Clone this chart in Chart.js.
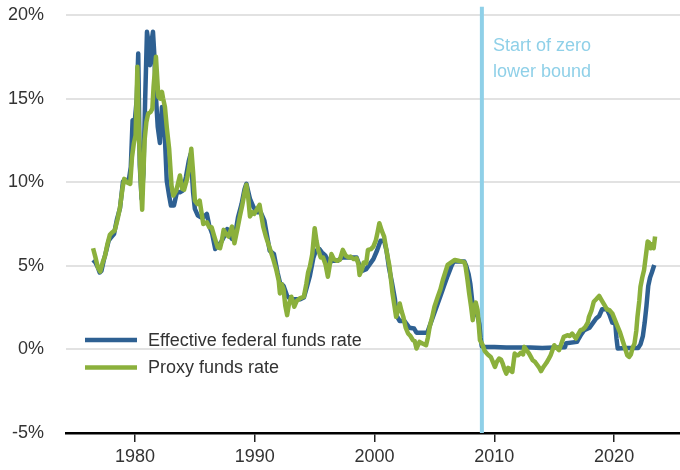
<!DOCTYPE html>
<html>
<head>
<meta charset="utf-8">
<script src="https://cdn.jsdelivr.net/npm/chart.js@4"></script>
<style>
html,body{margin:0;padding:0;background:#fff;}
canvas{display:block;}
</style>
</head>
<body>
<canvas id="c" width="680" height="470"></canvas>
<script>
// ---- Data ----
const seriesNames = ['Effective federal funds rate', 'Proxy funds rate'];
const xTickYears = [1980, 1990, 2000, 2010, 2020];
const yTickValues = [-5, 0, 5, 10, 15, 20];
const zlbYear = 2008.96;
const zlbLabel = ['Start of zero', 'lower bound'];

const effYears = [1976.50,1976.70,1976.90,1977.05,1977.20,1977.40,1977.60,1977.80,1978.00,1978.25,1978.50,1978.75,1979.00,1979.25,1979.50,1979.65,1979.80,1980.00,1980.15,1980.27,1980.40,1980.55,1980.70,1980.85,1981.00,1981.10,1981.25,1981.40,1981.50,1981.60,1981.75,1981.90,1982.08,1982.25,1982.35,1982.50,1982.65,1982.85,1983.00,1983.25,1983.50,1983.75,1984.00,1984.25,1984.50,1984.65,1984.85,1985.00,1985.25,1985.50,1985.70,1986.00,1986.20,1986.45,1986.70,1986.90,1987.10,1987.40,1987.70,1987.90,1988.10,1988.30,1988.60,1988.90,1989.15,1989.30,1989.60,1989.90,1990.20,1990.50,1990.80,1991.00,1991.25,1991.60,1991.90,1992.10,1992.40,1992.70,1993.00,1993.40,1993.80,1994.10,1994.30,1994.60,1994.90,1995.10,1995.40,1995.60,1995.90,1996.20,1996.50,1996.90,1997.30,1997.70,1998.10,1998.50,1998.75,1999.00,1999.30,1999.60,1999.90,2000.20,2000.50,2000.80,2001.00,2001.20,2001.45,2001.70,2001.85,2002.10,2002.50,2002.90,2003.30,2003.50,2004.00,2004.40,2004.60,2004.90,2005.20,2005.50,2005.80,2006.10,2006.40,2006.60,2007.00,2007.50,2007.65,2007.85,2008.00,2008.15,2008.30,2008.60,2008.75,2008.85,2008.95,2009.20,2010.00,2011.00,2012.00,2013.00,2014.00,2015.00,2015.90,2016.00,2016.90,2017.05,2017.25,2017.50,2017.95,2018.25,2018.50,2018.75,2019.00,2019.40,2019.60,2019.85,2020.10,2020.20,2020.30,2021.00,2022.00,2022.20,2022.40,2022.55,2022.70,2022.85,2023.00,2023.15,2023.35];
const effRates = [5.35,5.2,4.9,4.6,4.7,5.35,5.9,6.5,6.7,6.9,7.8,8.45,10.05,10.1,10.2,10.9,13.7,13.8,15.0,17.7,11.0,9.0,10.5,15.0,19.0,18.5,17.0,18.5,19.0,17.8,15.1,13.3,12.35,14.5,14.5,12.6,10.1,9.2,8.6,8.6,9.4,9.4,9.5,10.3,11.3,11.7,9.4,8.4,8.0,7.9,7.9,8.1,7.4,6.9,6.0,6.3,6.3,6.7,7.2,6.8,6.6,6.6,7.9,8.7,9.6,9.9,9.0,8.5,8.2,8.2,7.7,6.9,5.9,5.7,4.6,4.0,3.8,3.2,3.0,3.0,3.0,3.1,3.6,4.4,5.5,5.9,6.0,5.8,5.6,5.2,5.3,5.3,5.5,5.5,5.5,5.5,5.0,4.7,4.8,5.1,5.4,5.9,6.5,6.5,5.9,4.9,4.0,3.0,2.0,1.7,1.7,1.3,1.25,1.0,1.0,1.0,1.4,2.0,2.6,3.2,3.8,4.4,4.95,5.25,5.25,5.25,5.0,4.5,3.9,2.9,2.2,2.0,1.5,0.7,0.2,0.15,0.15,0.12,0.12,0.12,0.09,0.12,0.13,0.37,0.45,0.65,0.9,1.15,1.3,1.6,1.85,2.0,2.4,2.4,2.1,1.6,1.55,0.65,0.05,0.08,0.08,0.3,0.8,1.6,2.6,3.8,4.3,4.6,5.05];

const proxyYears = [1976.50,1976.70,1976.90,1977.10,1977.30,1977.50,1977.70,1977.90,1978.10,1978.30,1978.55,1978.75,1978.95,1979.10,1979.30,1979.60,1979.75,1979.90,1980.05,1980.20,1980.30,1980.45,1980.60,1980.80,1980.95,1981.10,1981.30,1981.45,1981.55,1981.75,1981.95,1982.10,1982.25,1982.35,1982.50,1982.65,1982.85,1983.05,1983.20,1983.45,1983.75,1983.95,1984.10,1984.35,1984.55,1984.70,1984.85,1985.00,1985.20,1985.40,1985.55,1985.70,1986.00,1986.20,1986.40,1986.60,1986.90,1987.10,1987.25,1987.40,1987.60,1987.80,1988.10,1988.30,1988.55,1988.75,1988.95,1989.15,1989.30,1989.45,1989.60,1989.80,1989.95,1990.20,1990.40,1990.55,1990.70,1990.95,1991.25,1991.50,1991.80,1992.00,1992.10,1992.25,1992.40,1992.55,1992.70,1992.85,1993.05,1993.20,1993.30,1993.50,1993.75,1994.10,1994.30,1994.45,1994.60,1994.80,1995.00,1995.15,1995.30,1995.50,1995.70,1995.90,1996.10,1996.25,1996.40,1996.60,1996.85,1997.10,1997.35,1997.60,1997.85,1998.00,1998.25,1998.50,1998.65,1998.75,1998.95,1999.10,1999.30,1999.45,1999.70,1999.90,2000.10,2000.25,2000.40,2000.60,2000.80,2001.00,2001.25,2001.50,2001.80,2001.95,2002.10,2002.25,2002.40,2002.60,2002.80,2003.00,2003.20,2003.35,2003.50,2003.75,2004.00,2004.30,2004.45,2004.60,2004.80,2005.00,2005.30,2005.50,2005.70,2005.90,2006.10,2006.40,2006.70,2007.00,2007.30,2007.50,2007.60,2007.75,2007.90,2008.05,2008.20,2008.30,2008.45,2008.60,2008.80,2009.00,2009.20,2009.45,2009.70,2009.85,2010.05,2010.20,2010.40,2010.55,2010.70,2010.85,2011.00,2011.15,2011.25,2011.40,2011.50,2011.60,2011.70,2011.85,2012.00,2012.20,2012.40,2012.50,2012.70,2012.90,2013.05,2013.20,2013.40,2013.60,2013.75,2013.90,2014.10,2014.35,2014.55,2014.70,2014.85,2015.00,2015.20,2015.40,2015.60,2015.80,2016.10,2016.30,2016.50,2016.80,2017.00,2017.20,2017.40,2017.60,2017.80,2017.90,2018.10,2018.30,2018.50,2018.75,2018.95,2019.20,2019.40,2019.60,2019.85,2020.05,2020.30,2020.50,2020.70,2020.90,2021.10,2021.25,2021.40,2021.55,2021.70,2021.85,2021.95,2022.10,2022.20,2022.35,2022.50,2022.65,2022.80,2022.90,2023.05,2023.20,2023.30,2023.42];
const proxyRates = [6.05,5.5,4.9,4.65,5.2,5.6,6.3,6.85,7.0,7.1,7.8,8.5,9.6,10.2,10.0,9.9,11.5,12.3,12.8,16.9,13.5,10.5,8.35,12.5,13.6,14.1,14.2,14.4,15.7,17.5,15.1,15.0,15.4,15.0,14.5,13.3,12.0,9.8,9.2,9.5,10.4,9.6,9.55,10.2,11.0,12.0,10.6,8.9,8.7,8.9,8.2,7.5,7.6,7.3,7.3,6.8,6.1,6.05,6.5,7.15,6.9,6.75,7.35,6.35,7.2,7.95,8.6,9.4,9.85,9.1,7.95,8.2,8.1,8.4,8.65,8.0,7.35,6.7,6.05,5.5,4.75,4.1,3.35,3.9,3.6,2.6,2.05,2.7,3.15,2.8,2.55,2.9,3.05,3.15,3.9,4.6,4.95,5.7,7.25,6.5,5.95,5.5,5.5,5.1,4.35,5.0,5.7,5.4,5.3,5.35,5.95,5.6,5.5,5.55,5.4,5.45,5.1,4.45,4.8,5.2,5.15,5.95,6.0,6.15,6.5,7.0,7.55,7.1,6.75,5.9,4.95,3.35,1.95,2.3,2.75,2.3,1.95,1.3,0.95,0.8,0.55,0.5,0.05,0.45,0.35,0.25,0.7,1.35,1.9,2.55,3.2,3.6,4.15,4.6,5.05,5.2,5.35,5.3,5.25,5.2,4.95,4.2,3.35,2.6,1.75,2.55,2.8,2.35,0.55,0.3,-0.1,-0.3,-0.45,-0.7,-1.05,-0.75,-0.55,-0.6,-0.85,-1.2,-1.45,-1.1,-1.15,-1.3,-1.35,-0.8,-0.25,-0.35,-0.35,-0.2,-0.3,0.15,-0.05,-0.25,-0.45,-0.65,-0.75,-0.95,-1.1,-1.3,-1.05,-0.8,-0.55,-0.35,-0.05,0.25,0.1,-0.05,0.35,0.75,0.85,0.8,0.95,0.65,0.9,1.15,1.2,1.35,1.6,1.95,2.3,2.85,3.0,3.2,2.95,2.65,2.4,2.35,2.15,1.8,1.35,1.0,0.55,0.1,-0.35,-0.45,-0.3,0.1,0.35,1.1,1.95,2.9,3.75,4.3,4.75,5.6,6.45,6.4,6.05,6.3,6.05,6.75];

// ---- Styles ----
const BLUE = '#2e6092';
const GREEN = '#8bb03c';
const LIGHTBLUE = '#8fd0e8';
const TEXT = '#333333';
const FONT = { family: "'Liberation Sans', Arial, sans-serif", size: 18 };

const toPoints = (xs, ys) => xs.map((x, i) => ({ x: x, y: ys[i] }));

const overlay = {
  id: 'overlay',
  afterDatasetsDraw(chart) {
    const ctx = chart.ctx;
    const xs = chart.scales.x;
    ctx.save();
    ctx.font = "18px 'Liberation Sans', Arial, sans-serif";
    ctx.textBaseline = 'middle';
    ctx.textAlign = 'left';
    // annotation
    ctx.fillStyle = LIGHTBLUE;
    const ax = xs.getPixelForValue(zlbYear) + 11;
    ctx.fillText(zlbLabel[0], ax, 46);
    ctx.fillText(zlbLabel[1], ax, 72);
    // legend
    const items = [chart.data.datasets[0], chart.data.datasets[1]];
    const ys = [340, 367.5];
    items.forEach((ds, i) => {
      ctx.strokeStyle = ds.borderColor;
      ctx.lineWidth = 4.5;
      ctx.lineCap = 'butt';
      ctx.beginPath();
      ctx.moveTo(85, ys[i]);
      ctx.lineTo(137, ys[i]);
      ctx.stroke();
      ctx.fillStyle = TEXT;
      ctx.fillText(ds.label, 148, ys[i] + 1);
    });
    ctx.restore();
  }
};

new Chart(document.getElementById('c'), {
  type: 'line',
  data: {
    datasets: [
      { label: seriesNames[0], data: toPoints(effYears, effRates), borderColor: BLUE, borderWidth: 4.5,
        pointRadius: 0, tension: 0, order: 1, borderJoinStyle: 'round' },
      { label: seriesNames[1], data: toPoints(proxyYears, proxyRates), borderColor: GREEN, borderWidth: 4.5,
        pointRadius: 0, tension: 0, order: 0, borderJoinStyle: 'round' },
      { label: 'zlb', data: [{ x: zlbYear, y: -5 }, { x: zlbYear, y: 20.5 }], borderColor: LIGHTBLUE,
        borderWidth: 4, pointRadius: 0, order: 2, clip: false }
    ]
  },
  options: {
    responsive: false,
    animation: false,
    devicePixelRatio: 1,
    layout: { padding: { top: 15, right: 0, bottom: 0, left: 0 } },
    plugins: { legend: { display: false }, tooltip: { enabled: false } },
    scales: {
      x: {
        type: 'linear', min: 1974.24, max: 2025.5,
        afterBuildTicks: s => { s.ticks = xTickYears.map(v => ({ value: v })); },
        afterFit: s => { s.height = 37; s.paddingLeft = 0; s.paddingRight = 0; },
        ticks: { callback: v => String(v), font: FONT, color: TEXT, padding: 4, maxRotation: 0, autoSkip: false },
        grid: { drawOnChartArea: false, drawTicks: true, tickLength: 9, color: '#222', lineWidth: 1.5 },
        border: { display: true, color: '#000', width: 2.5 }
      },
      y: {
        type: 'linear', min: -5, max: 20,
        afterBuildTicks: s => { s.ticks = yTickValues.map(v => ({ value: v })); },
        afterFit: s => { s.width = 66; s.paddingTop = 0; s.paddingBottom = 0; },
        ticks: { callback: v => v + '%', font: FONT, color: TEXT, padding: 22 },
        grid: { color: '#e2e2e2', lineWidth: 2, drawTicks: false },
        border: { display: false }
      }
    }
  },
  plugins: [overlay]
});
</script>
</body>
</html>
